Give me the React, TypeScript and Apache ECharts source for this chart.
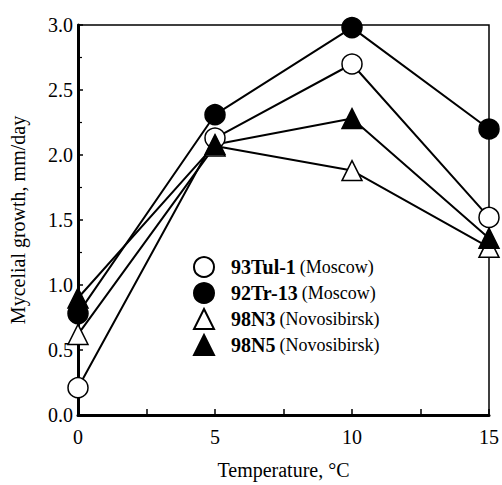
import React, { useEffect, useRef } from "react";
import * as echarts from "echarts";

const temps = [0, 5, 10, 15];
const tul1 = [0.21, 2.13, 2.7, 1.52];
const tr13 = [0.78, 2.31, 2.98, 2.2];
const n3 = [0.62, 2.07, 1.88, 1.29];
const n5 = [0.9, 2.08, 2.28, 1.36];
const xTicks = [0, 5, 10, 15];
const yTicks = [0, 0.5, 1.0, 1.5, 2.0, 2.5, 3.0];

const seriesDefs = [
  { name: "93Tul-1", place: "(Moscow)", data: tul1, symbol: "circle", fill: "#ffffff" },
  { name: "92Tr-13", place: "(Moscow)", data: tr13, symbol: "circle", fill: "#000000" },
  { name: "98N3", place: "(Novosibirsk)", data: n3, symbol: "triangle", fill: "#ffffff" },
  { name: "98N5", place: "(Novosibirsk)", data: n5, symbol: "triangle", fill: "#000000" },
];

export default function App() {
  const ref = useRef<HTMLDivElement>(null);
  useEffect(() => {
    if (!ref.current) return;
    const chart = echarts.init(ref.current, null, { renderer: "svg" });
    const font = "Liberation Serif";
    chart.setOption({
      animation: false,
      textStyle: { fontFamily: font, color: "#000" },
      grid: {
        left: 77,
        right: 5,
        top: 25,
        bottom: 67,
        show: true,
        borderColor: "#000",
        borderWidth: 1.5,
      },
      legend: {
        orient: "vertical",
        left: 188,
        top: 251,
        itemWidth: 20,
        itemHeight: 20,
        itemGap: 4,
        data: seriesDefs.map((s) => ({ name: s.name, icon: s.symbol })),
        formatter: (name: string) => {
          const s = seriesDefs.find((d) => d.name === name)!;
          return `{b|${s.name}}{n|${s.place}}`;
        },
        textStyle: {
          fontFamily: font,
          rich: {
            b: { fontFamily: font, fontWeight: "bold", fontSize: 20, color: "#000", padding: [0, 0, 0, 12], lineHeight: 23 },
            n: { fontFamily: font, fontSize: 18, color: "#000", lineHeight: 23, padding: [0, 0, 0, 4] },
          },
        },
      },
      xAxis: {
        type: "value",
        min: 0,
        max: 15,
        interval: 5,
        name: "Temperature, °C",
        nameLocation: "middle",
        nameGap: 45,
        nameTextStyle: { fontFamily: font, fontSize: 20, color: "#000" },
        axisLine: { lineStyle: { color: "#000", width: 3 } },
        axisTick: { inside: true, length: 6, lineStyle: { color: "#000", width: 1.5 } },
        minorTick: { show: true, splitNumber: 2, length: 6, lineStyle: { color: "#000", width: 1.5 } },
        axisLabel: {
          fontFamily: font,
          fontSize: 20,
          color: "#000",
          margin: 12,
          formatter: (v: number) => (xTicks.includes(v) ? String(v) : ""),
        },
        splitLine: { show: false },
      },
      yAxis: {
        type: "value",
        min: 0,
        max: 3,
        interval: 0.5,
        name: "Mycelial growth, mm/day",
        nameLocation: "middle",
        nameGap: 50,
        nameTextStyle: { fontFamily: font, fontSize: 20, color: "#000" },
        axisLine: { lineStyle: { color: "#000", width: 3 } },
        axisTick: { inside: true, length: 5, lineStyle: { color: "#000", width: 1.5 } },
        minorTick: { show: true, splitNumber: 2, length: 4, lineStyle: { color: "#000", width: 1.2 } },
        axisLabel: {
          fontFamily: font,
          fontSize: 20,
          color: "#000",
          margin: 5,
          formatter: (v: number) => (yTicks.some((t) => Math.abs(t - v) < 1e-9) ? v.toFixed(1) : ""),
        },
        splitLine: { show: false },
      },
      series: seriesDefs.map((s) => ({
        name: s.name,
        type: "line",
        data: temps.map((t, i) => [t, s.data[i]]),
        symbol: s.symbol,
        symbolSize: 20,
        clip: false,
        lineStyle: { color: "#000", width: 2 },
        itemStyle: { color: s.fill, borderColor: "#000", borderWidth: 1.5 },
        z: 3,
      })),
    });
    return () => chart.dispose();
  }, []);
  return (
    <div
      ref={ref}
      style={{ position: "absolute", left: 0, top: 0, width: 502, height: 485 }}
    />
  );
}
